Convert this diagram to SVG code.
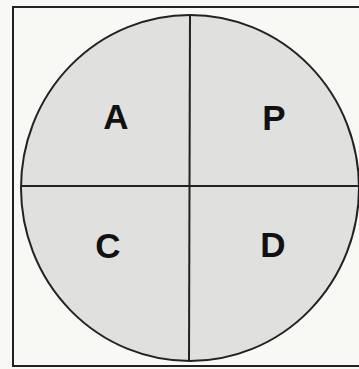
<svg xmlns="http://www.w3.org/2000/svg" width="359" height="369" viewBox="0 0 359 369">
<style>
.lbl{font-family:"Liberation Sans",Arial,sans-serif;font-weight:bold;font-size:35px;fill:#111;text-anchor:middle}
.ln{stroke:#222;stroke-width:2;fill:none}
</style>
<rect width="359" height="369" fill="#f8f8f5"/>
<path class="ln" d="M359,7 H13 V366 H359"/>
<g id="circle">
<ellipse cx="190" cy="188" rx="169" ry="173" fill="#e0e0de" stroke="#222" stroke-width="2"/>
</g>
<g id="connectors">
<line class="ln" x1="190" y1="15" x2="189" y2="361"/>
<line class="ln" x1="21" y1="186" x2="359" y2="186"/>
</g>
<g id="A"><text class="lbl" x="116" y="129">A</text></g>
<g id="P"><text class="lbl" x="274" y="130">P</text></g>
<g id="C"><text class="lbl" x="108" y="258">C</text></g>
<g id="D"><text class="lbl" x="273" y="257">D</text></g>
</svg>
